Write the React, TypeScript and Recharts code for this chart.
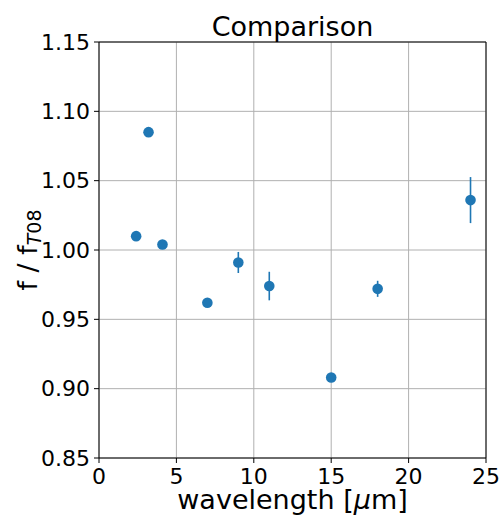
import React from 'react';
import { ScatterChart, Scatter, XAxis, YAxis, CartesianGrid, ErrorBar, ReferenceLine } from 'recharts';

// wavelength in micron, flux ratio against T08 and its 1-sigma error
const wavelength = [2.4, 3.2, 4.1, 7, 9, 11, 15, 18, 24];
const ratio = [1.010, 1.085, 1.004, 0.962, 0.991, 0.974, 0.908, 0.972, 1.036];
const ratioErr = [0.001, 0.001, 0.001, 0.001, 0.0076, 0.0103, 0.002, 0.0058, 0.0166];

const xTicks = [0, 5, 10, 15, 20, 25];
const yTicks = [0.85, 0.9, 0.95, 1.0, 1.05, 1.1, 1.15];

const data = wavelength.map((x, i) => ({ x, y: ratio[i], err: ratioErr[i] }));

const blue = '#1f77b4';
const font = 'DejaVu Sans';
const tickStyle = { fontFamily: font, fontSize: 22, fill: '#000' };

const Dot = (props: any) => <circle cx={props.cx} cy={props.cy} r={5.3} fill={blue} />;

export default function App() {
  return (
    <div style={{ position: 'absolute', left: 0, top: 0, width: 500, height: 517, background: '#fff' }}>
      <ScatterChart width={500} height={517} margin={{ top: 42, right: 14, bottom: 0, left: 0 }}>
        <CartesianGrid stroke="#b0b0b0" strokeWidth={1} />
        <XAxis
          type="number"
          dataKey="x"
          domain={[0, 25]}
          ticks={xTicks}
          allowDataOverflow
          height={59}
          stroke="#000"
          tickSize={5}
          tickMargin={5}
          tick={tickStyle}
        />
        <YAxis
          type="number"
          dataKey="y"
          domain={[0.85, 1.15]}
          ticks={yTicks}
          allowDataOverflow
          width={99}
          stroke="#000"
          tickSize={5}
          tickMargin={4}
          tick={tickStyle}
          tickFormatter={(v: number) => v.toFixed(2)}
        />
        <ReferenceLine y={1.15} stroke="#000" strokeWidth={1} />
        <ReferenceLine x={25} stroke="#000" strokeWidth={1} />
        <Scatter data={data} fill={blue} shape={Dot} isAnimationActive={false}>
          <ErrorBar dataKey="err" direction="y" width={0} stroke={blue} strokeWidth={1.6} isAnimationActive={false} />
        </Scatter>
      </ScatterChart>
      <svg width={500} height={517} style={{ position: 'absolute', left: 0, top: 0, pointerEvents: 'none' }}>
        <text x={292.5} y={36} textAnchor="middle" fontFamily={font} fontSize={27} fill="#000">Comparison</text>
        <text x={292.5} y={509} textAnchor="middle" fontFamily={font} fontSize={27} fill="#000">
          wavelength [<tspan fontStyle="italic">μ</tspan>m]
        </text>
        <text transform="translate(37,250) rotate(-90)" textAnchor="middle" fontFamily={font} fontSize={27} fill="#000">
          f / f<tspan fontSize={19} dy={4} fontStyle="italic">T</tspan><tspan fontSize={19}>08</tspan>
        </text>
      </svg>
    </div>
  );
}
